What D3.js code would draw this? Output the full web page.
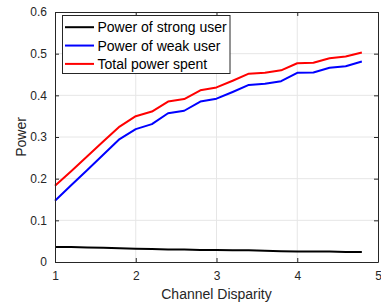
<!DOCTYPE html>
<html>
<head>
<meta charset="utf-8">
<script src="https://cdn.jsdelivr.net/npm/d3@7"></script>
<style>
  html, body { margin: 0; padding: 0; background: #fff; }
  svg { display: block; font-family: "Liberation Sans", Arial, sans-serif; }
</style>
</head>
<body>
<svg id="chart" width="381" height="304"></svg>
<script>
// ── Data ───────────────────────────────────────────────────────────────────
const disparity = [1.0, 1.2, 1.4, 1.6, 1.8, 2.0, 2.2, 2.4, 2.6, 2.8,
                   3.0, 3.2, 3.4, 3.6, 3.8, 4.0, 4.2, 4.4, 4.6, 4.8];
const strongPower = [0.036, 0.036, 0.035, 0.034, 0.033, 0.032, 0.031, 0.030, 0.030, 0.029,
                     0.029, 0.028, 0.028, 0.027, 0.026, 0.025, 0.025, 0.025, 0.024, 0.024];
const weakPower = [0.147, 0.184, 0.221, 0.258, 0.295, 0.319, 0.331, 0.357, 0.363, 0.385,
                   0.392, 0.408, 0.425, 0.428, 0.434, 0.454, 0.455, 0.466, 0.470, 0.481];
const totalPower = [0.183, 0.218, 0.254, 0.290, 0.325, 0.350, 0.361, 0.385, 0.391, 0.412,
                    0.419, 0.435, 0.452, 0.454, 0.460, 0.477, 0.478, 0.489, 0.493, 0.503];
const xTicks = [1, 2, 3, 4, 5];
const yTicks = [0, 0.1, 0.2, 0.3, 0.4, 0.5, 0.6];

const series = [
  { name: "Power of strong user", values: strongPower, color: "#000000" },
  { name: "Power of weak user",   values: weakPower,   color: "#0000ff" },
  { name: "Total power spent",    values: totalPower,  color: "#ff0000" },
];

// ── Layout ─────────────────────────────────────────────────────────────────
const margin = { left: 55, right: 3, top: 12, bottom: 42 };
const width = 381, height = 304;
const axisColor = "#262626";

const svg = d3.select("#chart");

const x = d3.scaleLinear().domain([1, 5]).range([margin.left, width - margin.right]);
const y = d3.scaleLinear().domain([0, 0.6]).range([height - margin.bottom, margin.top]);

// grid
svg.append("g")
  .selectAll("line")
  .data(xTicks.slice(1, -1))
  .join("line")
  .attr("x1", d => x(d)).attr("x2", d => x(d))
  .attr("y1", y(0)).attr("y2", y(0.6))
  .attr("stroke", "#e6e6e6").attr("stroke-width", 1);
svg.append("g")
  .selectAll("line")
  .data(yTicks.slice(1, -1))
  .join("line")
  .attr("x1", x(1)).attr("x2", x(5))
  .attr("y1", d => y(d)).attr("y2", d => y(d))
  .attr("stroke", "#e6e6e6").attr("stroke-width", 1);

// lines
const line = d3.line()
  .x((d, i) => x(disparity[i]))
  .y(d => y(d));

svg.append("g")
  .selectAll("path")
  .data(series)
  .join("path")
  .attr("d", d => line(d.values))
  .attr("fill", "none")
  .attr("stroke", d => d.color)
  .attr("stroke-width", 2)
  .attr("stroke-linejoin", "round");

// axes (MATLAB-style box, inward ticks)
function styleAxis(g) {
  g.select(".domain").attr("stroke", axisColor);
  g.selectAll(".tick line").attr("stroke", axisColor);
  g.selectAll(".tick text")
    .attr("fill", axisColor)
    .style("font-size", "12px")
    .style("font-family", "Liberation Sans, Arial, sans-serif");
}

svg.append("g")
  .attr("transform", `translate(0,${y(0)})`)
  .call(d3.axisBottom(x).tickValues(xTicks).tickFormat(d3.format("d"))
    .tickSizeInner(-4).tickSizeOuter(0).tickPadding(9))
  .call(styleAxis);

svg.append("g")
  .attr("transform", `translate(0,${y(0.6)})`)
  .call(d3.axisTop(x).tickValues(xTicks).tickFormat("")
    .tickSizeInner(-4).tickSizeOuter(0))
  .call(styleAxis);

svg.append("g")
  .attr("transform", `translate(${x(1)},0)`)
  .call(d3.axisLeft(y).tickValues(yTicks).tickFormat(d => d === 0 ? "0" : d3.format(".1f")(d))
    .tickSizeInner(-4).tickSizeOuter(0).tickPadding(8))
  .call(styleAxis);

svg.append("g")
  .attr("transform", `translate(${x(5)},0)`)
  .call(d3.axisRight(y).tickValues(yTicks).tickFormat("")
    .tickSizeInner(-4).tickSizeOuter(0))
  .call(styleAxis);

// axis labels
svg.append("text")
  .attr("x", (x(1) + x(5)) / 2)
  .attr("y", 299)
  .attr("text-anchor", "middle")
  .attr("fill", axisColor)
  .style("font-size", "14px")
  .text("Channel Disparity");

svg.append("text")
  .attr("transform", `translate(26,${(y(0) + y(0.6)) / 2}) rotate(-90)`)
  .attr("text-anchor", "middle")
  .attr("fill", axisColor)
  .style("font-size", "14px")
  .text("Power");

// legend
const legend = svg.append("g").attr("transform", "translate(62.5,15.5)");
legend.append("rect")
  .attr("width", 167.5).attr("height", 58)
  .attr("fill", "#fff")
  .attr("stroke", axisColor).attr("stroke-width", 1);

const rows = legend.selectAll("g")
  .data(series)
  .join("g")
  .attr("transform", (d, i) => `translate(0,${11.7 + i * 18.35})`);
rows.append("line")
  .attr("x1", 2.5).attr("x2", 31.5)
  .attr("stroke", d => d.color).attr("stroke-width", 2);
rows.append("text")
  .attr("x", 35).attr("dy", "0.36em")
  .attr("fill", "#000")
  .style("font-size", "14px")
  .text(d => d.name);
</script>
</body>
</html>
